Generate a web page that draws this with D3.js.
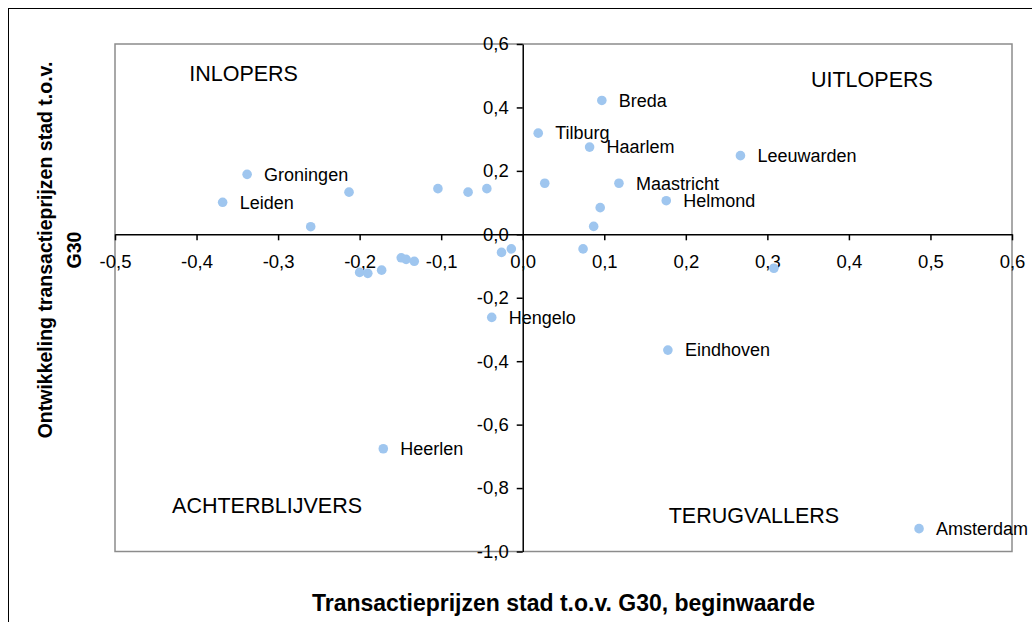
<!DOCTYPE html>
<html>
<head>
<meta charset="utf-8">
<script src="https://cdn.jsdelivr.net/npm/d3@7"></script>
<style>
  html, body { margin: 0; padding: 0; background: #ffffff; }
  svg { display: block; font-family: "Liberation Sans", Arial, sans-serif; }
</style>
</head>
<body>
<svg id="chart" width="1032" height="622"></svg>
<script>
// G30 cities: starting price level vs. development, both relative to G30
const cityNames = [
  "Groningen", "Leiden", "", "", "", "", "",
  "Breda", "Tilburg", "Haarlem", "Leeuwarden", "", "Maastricht", "Helmond", "", "",
  "", "", "", "Hengelo", "", "Eindhoven", "Amsterdam",
  "", "", "", "", "", "", "Heerlen"
];
const startValues = [
  -0.338, -0.368, -0.213, -0.260, -0.104, -0.067, -0.044,
  0.097, 0.019, 0.082, 0.267, 0.027, 0.118, 0.176, 0.095, 0.087,
  -0.026, -0.014, 0.074, -0.038, 0.308, 0.178, 0.486,
  -0.200, -0.190, -0.173, -0.149, -0.143, -0.133, -0.171
];
const developmentValues = [
  0.189, 0.101, 0.133, 0.024, 0.144, 0.133, 0.144,
  0.422, 0.319, 0.275, 0.248, 0.161, 0.161, 0.106, 0.084, 0.025,
  -0.057, -0.046, -0.046, -0.262, -0.107, -0.365, -0.928,
  -0.120, -0.123, -0.113, -0.074, -0.079, -0.085, -0.676
];
const xTickValues = [-0.5, -0.4, -0.3, -0.2, -0.1, 0.0, 0.1, 0.2, 0.3, 0.4, 0.5, 0.6];
const yTickValues = [0.6, 0.4, 0.2, 0.0, -0.2, -0.4, -0.6, -0.8, -1.0];
const quadrantNames = ["INLOPERS", "UITLOPERS", "ACHTERBLIJVERS", "TERUGVALLERS"];
const xTitle = "Transactieprijzen stad t.o.v. G30, beginwaarde";
const yTitleLines = ["Ontwikkeling transactieprijzen stad t.o.v.", "G30"];

const points = cityNames.map((name, i) => ({ name, x: startValues[i], y: developmentValues[i] }));

const svg = d3.select("#chart");
const plot = { left: 115, right: 1012, top: 44, bottom: 551.5 };

const x = d3.scaleLinear().domain([-0.5, 0.6]).range([plot.left, plot.right]);
const y = d3.scaleLinear().domain([-1.0, 0.6]).range([plot.bottom, plot.top]);
const fmt = d => d3.format(".1f")(d).replace(".", ",").replace("−", "-");

// outer chart frame (runs off the canvas on the right and bottom)
svg.append("rect")
  .attr("x", 8.5).attr("y", 8.5).attr("width", 1100).attr("height", 700)
  .attr("fill", "none").attr("stroke", "#000").attr("stroke-width", 1);

// plot area border
svg.append("rect")
  .attr("x", plot.left).attr("y", plot.top)
  .attr("width", plot.right - plot.left).attr("height", plot.bottom - plot.top)
  .attr("fill", "none").attr("stroke", "#8c8c8c").attr("stroke-width", 1.5);

// axes cross at the origin
const xAxis = svg.append("g")
  .attr("transform", `translate(0,${y(0)})`)
  .call(d3.axisBottom(x).tickValues(xTickValues).tickFormat(fmt).tickSize(6).tickSizeOuter(0).tickPadding(15));
const yAxis = svg.append("g")
  .attr("transform", `translate(${x(0)},0)`)
  .call(d3.axisLeft(y).tickValues(yTickValues).tickFormat(fmt).tickSize(6).tickSizeOuter(0).tickPadding(8));

[xAxis, yAxis].forEach(g => {
  g.select(".domain").attr("stroke", "#000").attr("stroke-width", 1.5);
  g.selectAll(".tick line").attr("stroke", "#000").attr("stroke-width", 1.5);
  g.selectAll(".tick text")
    .attr("fill", "#000")
    .style("font-family", "'Liberation Sans', Arial, sans-serif")
    .style("font-size", "18.5px");
});

// quadrant captions
const quadrantAnchors = [
  { x: -0.409, y: 0.483 },
  { x: 0.3535, y: 0.464 },
  { x: -0.430, y: -0.878 },
  { x: 0.179, y: -0.911 }
];
svg.append("g").selectAll("text")
  .data(quadrantNames)
  .join("text")
  .attr("x", (d, i) => x(quadrantAnchors[i].x))
  .attr("y", (d, i) => y(quadrantAnchors[i].y))
  .attr("fill", "#000")
  .style("font-size", "21.5px")
  .text(d => d);

// city markers
svg.append("g").selectAll("circle")
  .data(points)
  .join("circle")
  .attr("cx", d => x(d.x))
  .attr("cy", d => y(d.y))
  .attr("r", 4.8)
  .attr("fill", "#9fc6ef");

// city labels
svg.append("g").selectAll("text")
  .data(points.filter(d => d.name))
  .join("text")
  .attr("x", d => x(d.x) + 17)
  .attr("y", d => y(d.y))
  .attr("dy", "0.35em")
  .attr("fill", "#000")
  .style("font-size", "18px")
  .text(d => d.name);

// axis titles
svg.append("text")
  .attr("x", (plot.left + plot.right) / 2)
  .attr("y", 611)
  .attr("text-anchor", "middle")
  .attr("fill", "#000")
  .style("font-size", "23px")
  .style("font-weight", "bold")
  .text(xTitle);

const yTitle = svg.append("text")
  .attr("transform", "translate(0,250) rotate(-90)")
  .attr("text-anchor", "middle")
  .attr("fill", "#000")
  .style("font-size", "19.5px")
  .style("font-weight", "bold");
yTitle.selectAll("tspan")
  .data(yTitleLines)
  .join("tspan")
  .attr("x", 0)
  .attr("y", (d, i) => 52 + i * 29)
  .text(d => d);
</script>
</body>
</html>
